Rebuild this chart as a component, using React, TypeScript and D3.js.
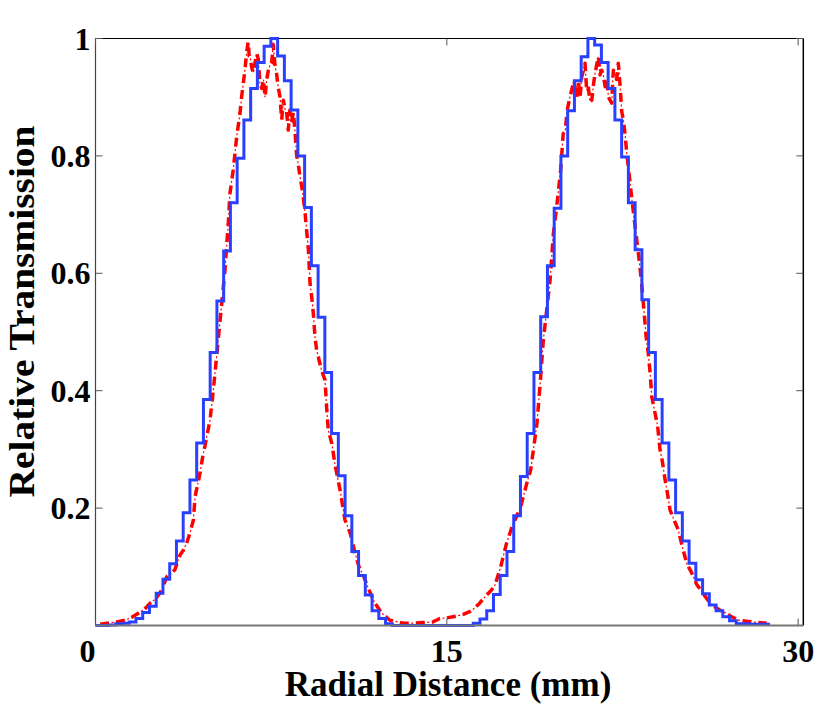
import React from 'react';
import * as d3 from 'd3';

// Blue: binned (staircase) transmission, one value per detector bin
const binWidth = 0.288; // mm
const blueBins = [
  0, 0, 0.001, 0.003, 0.004, 0.006, 0.012, 0.022, 0.033, 0.055,
  0.079, 0.105, 0.144, 0.192, 0.248, 0.311, 0.385, 0.465, 0.553, 0.638,
  0.72, 0.796, 0.861, 0.915, 0.959, 0.987, 1.0, 0.97, 0.928, 0.878,
  0.8, 0.712, 0.613, 0.525, 0.431, 0.327, 0.255, 0.187, 0.126, 0.085,
  0.052, 0.025, 0.012, 0.003, 0, 0, 0, 0, 0, 0,
  0, 0, 0, 0, 0, 0, 0.004, 0.011, 0.025, 0.053,
  0.085, 0.126, 0.187, 0.254, 0.327, 0.431, 0.526, 0.613, 0.711, 0.8,
  0.877, 0.928, 0.969, 1.0, 0.989, 0.959, 0.915, 0.861, 0.798, 0.72,
  0.64, 0.555, 0.465, 0.385, 0.311, 0.248, 0.192, 0.144, 0.106, 0.078,
  0.054, 0.035, 0.025, 0.015, 0.008, 0.003, 0.003, 0.002, 0.002, 0.002,
];

// Red: measured profile [mm, relative transmission]
const redTrace: [number, number][] = [
  [0.2, 0.002], [0.5, 0.004], [0.9, 0.006], [1.26, 0.009], [1.55, 0.014], [1.83, 0.021],
  [2.1, 0.028], [2.33, 0.038], [2.55, 0.045], [2.75, 0.055], [2.9, 0.068], [3.04, 0.083],
  [3.2, 0.088], [3.39, 0.095], [3.5, 0.108], [3.61, 0.12], [3.75, 0.128], [3.89, 0.14],
  [4.05, 0.16], [4.18, 0.18], [4.25, 0.219], [4.36, 0.24], [4.46, 0.259], [4.6, 0.293],
  [4.68, 0.307], [4.75, 0.322], [4.89, 0.35], [5.03, 0.401], [5.2, 0.47], [5.39, 0.549],
  [5.53, 0.606], [5.67, 0.685], [5.74, 0.736], [5.88, 0.776], [6.03, 0.833], [6.17, 0.873],
  [6.24, 0.901], [6.38, 0.946], [6.45, 0.975], [6.52, 0.995], [6.56, 0.97], [6.6, 0.969],
  [6.67, 0.95], [6.74, 0.941], [6.81, 0.958], [6.88, 0.975], [6.95, 0.965], [7.02, 0.924],
  [7.1, 0.915], [7.17, 0.93], [7.24, 0.9], [7.31, 0.93], [7.38, 0.946], [7.45, 0.955],
  [7.52, 0.958], [7.59, 0.99], [7.63, 0.97], [7.66, 0.955], [7.73, 0.94], [7.81, 0.915],
  [7.88, 0.9], [7.95, 0.861], [8.02, 0.895], [8.09, 0.88], [8.16, 0.875], [8.23, 0.844],
  [8.3, 0.878], [8.38, 0.86], [8.45, 0.875], [8.52, 0.84], [8.59, 0.8], [8.66, 0.785],
  [8.73, 0.765], [8.84, 0.74], [8.95, 0.702], [9.02, 0.67], [9.09, 0.64], [9.16, 0.583],
  [9.23, 0.56], [9.3, 0.532], [9.37, 0.492], [9.44, 0.47], [9.51, 0.458], [9.65, 0.435],
  [9.8, 0.418], [9.87, 0.37], [9.94, 0.333], [10.09, 0.31], [10.23, 0.273], [10.44, 0.231],
  [10.65, 0.18], [10.87, 0.158], [11.08, 0.124], [11.25, 0.1], [11.43, 0.086], [11.65, 0.063],
  [11.93, 0.038], [12.22, 0.021], [12.57, 0.009], [13.14, 0.004], [13.5, 0.004], [14.0, 0.005],
  [14.4, 0.006], [14.7, 0.012], [15.0, 0.013], [15.4, 0.016], [15.7, 0.019], [16.0, 0.024],
  [16.2, 0.03], [16.4, 0.038], [16.55, 0.045], [16.7, 0.052], [16.9, 0.06], [17.06, 0.069],
  [17.3, 0.1], [17.55, 0.14], [17.8, 0.17], [18.15, 0.202], [18.4, 0.24], [18.58, 0.265],
  [18.85, 0.345], [19.0, 0.42], [19.12, 0.486], [19.3, 0.55], [19.41, 0.589], [19.55, 0.668],
  [19.69, 0.713], [19.86, 0.776], [19.97, 0.838], [20.05, 0.841], [20.14, 0.878], [20.26, 0.901],
  [20.33, 0.912], [20.43, 0.929], [20.55, 0.9], [20.62, 0.926], [20.69, 0.9], [20.76, 0.935],
  [20.83, 0.945], [20.9, 0.958], [20.97, 0.912], [21.04, 0.918], [21.11, 0.892], [21.19, 0.895],
  [21.26, 0.921], [21.33, 0.941], [21.4, 0.955], [21.47, 0.97], [21.54, 0.938], [21.61, 0.946],
  [21.68, 0.938], [21.76, 0.918], [21.83, 0.93], [21.9, 0.9], [21.97, 0.895], [22.04, 0.89],
  [22.11, 0.946], [22.18, 0.941], [22.25, 0.93], [22.32, 0.958], [22.36, 0.94], [22.4, 0.918],
  [22.47, 0.875], [22.54, 0.861], [22.61, 0.836], [22.68, 0.806], [22.78, 0.77], [22.89, 0.73],
  [23.04, 0.679], [23.18, 0.634], [23.3, 0.59], [23.39, 0.549], [23.51, 0.492], [23.6, 0.464],
  [23.68, 0.43], [23.75, 0.39], [23.85, 0.37], [24.0, 0.34], [24.1, 0.3], [24.2, 0.28],
  [24.32, 0.248], [24.4, 0.23], [24.53, 0.197], [24.7, 0.18], [24.88, 0.163], [25.05, 0.135],
  [25.24, 0.106], [25.45, 0.09], [25.67, 0.07], [26.02, 0.05], [26.3, 0.035], [26.67, 0.026],
  [26.88, 0.022], [27.16, 0.015], [27.45, 0.009], [27.87, 0.007], [28.3, 0.005], [28.66, 0.004],
];

const xTicks = [0, 15, 30];
const xTickLabels = ['0', '15', '30'];
const yTicks = [0.2, 0.4, 0.6, 0.8, 1];
const yTickLabels = ['0.2', '0.4', '0.6', '0.8', '1'];

const W = 830;
const H = 715;
const left = 95.5, right = 803.3, top = 38.5, bottom = 625.5;
const font = '"Liberation Serif", "Times New Roman", serif';

export default function App() {
  const x = d3.scaleLinear().domain([0, 30.22]).range([left, right]);
  const y = d3.scaleLinear().domain([0, 1]).range([bottom, top]);

  const bluePts: [number, number][] = blueBins.map((v, i) => [i * binWidth, v]);
  bluePts.push([blueBins.length * binWidth, blueBins[blueBins.length - 1]]);

  const stepLine = d3.line<[number, number]>()
    .x(d => x(d[0]))
    .y(d => y(d[1]))
    .curve(d3.curveStepAfter);
  const redLine = d3.line<[number, number]>()
    .x(d => x(d[0]))
    .y(d => y(d[1]));

  const tick = 7;
  const tickColor = '#555';
  const redPath = redLine(redTrace) || '';

  return (
    <svg width={W} height={H} style={{ position: 'absolute', left: 0, top: 0, background: '#fff' }}>
      {/* frame */}
      <line x1={left} y1={top} x2={right} y2={top} stroke="#000" strokeWidth={1.2} />
      <line x1={right} y1={top} x2={right} y2={bottom} stroke="#000" strokeWidth={1.5} />
      <line x1={left} y1={top} x2={left} y2={bottom} stroke="#444" strokeWidth={1.2} />

      {/* ticks */}
      {xTicks.map(t => (
        <g key={'xt' + t}>
          <line x1={x(t)} x2={x(t)} y1={bottom} y2={bottom - tick} stroke={tickColor} strokeWidth={1} />
          <line x1={x(t)} x2={x(t)} y1={top} y2={top + tick} stroke={tickColor} strokeWidth={1} />
        </g>
      ))}
      {yTicks.map(t => (
        <g key={'yt' + t}>
          <line x1={left} x2={left + tick} y1={y(t)} y2={y(t)} stroke={tickColor} strokeWidth={1} />
          <line x1={right} x2={right - tick} y1={y(t)} y2={y(t)} stroke={tickColor} strokeWidth={1} />
        </g>
      ))}

      {/* curves */}
      <path d={redPath} fill="none" stroke="#ff0000" strokeWidth={3.5}
        strokeDasharray="9 7" strokeLinejoin="round" />
      <path d={redPath} fill="none" stroke="#ff0000" strokeWidth={1.2}
        strokeDasharray="0 11.5 2 2.5" />
      <path d={stepLine(bluePts) || ''} fill="none" stroke="#2a40ff" strokeWidth={3}
        strokeLinejoin="miter" />

      <line x1={left} y1={bottom} x2={right} y2={bottom} stroke="#777" strokeWidth={2} />

      {/* tick labels */}
      {xTicks.map((t, i) => (
        <text key={'xl' + t} x={x(t) + (i === 0 ? -8 : 0)} y={662} textAnchor="middle"
          fontFamily={font} fontWeight="bold" fontSize={32}>{xTickLabels[i]}</text>
      ))}
      {yTicks.map((t, i) => (
        <text key={'yl' + t} x={left - 5} y={y(t) + 11} textAnchor="end"
          fontFamily={font} fontWeight="bold" fontSize={32}>{yTickLabels[i]}</text>
      ))}

      {/* axis titles */}
      <text x={448} y={696} textAnchor="middle" fontFamily={font} fontWeight="bold" fontSize={35}>
        Radial Distance (mm)
      </text>
      <text transform="translate(34,311.5) rotate(-90)" textAnchor="middle" fontFamily={font}
        fontWeight="bold" fontSize={36} textLength={372} lengthAdjust="spacingAndGlyphs">
        Relative Transmission
      </text>
    </svg>
  );
}
